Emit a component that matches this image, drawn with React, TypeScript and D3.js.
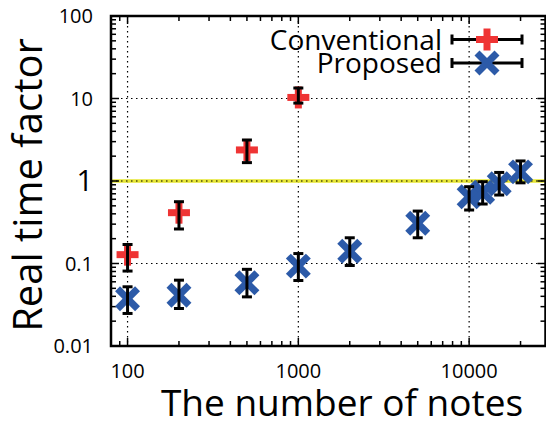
import * as d3 from "d3";

const convX = [100, 200, 500, 1000];
const convY = [0.128, 0.413, 2.38, 10.3];
const convLo = [0.081, 0.262, 1.67, 8.8];
const convHi = [0.17, 0.561, 3.14, 13.4];

const propX = [100, 200, 500, 1000, 2000, 5000, 10000, 12000, 15000, 20000];
const propY = [0.0373, 0.0413, 0.0583, 0.093, 0.141, 0.307, 0.645, 0.73, 0.927, 1.29];
const propLo = [0.0248, 0.0285, 0.0394, 0.0622, 0.0946, 0.205, 0.445, 0.526, 0.676, 0.95];
const propHi = [0.0522, 0.0628, 0.085, 0.132, 0.205, 0.432, 0.853, 0.98, 1.27, 1.75];

const xMajor = [100, 1000, 10000];
const yMajor = [0.01, 0.1, 1, 10, 100];
const yLabels = ["0.01", "0.1", "1", "10", "100"];
const legendNames = ["Conventional", "Proposed"];

const W = 546;
const H = 423;
const m = { left: 111, right: 545.5, top: 16, bottom: 346 };
const RED = "#ef3434";
const BLUE = "#2c5aa8";
const FONT = "'Open Sans', 'DejaVu Sans', sans-serif";

const x = d3.scaleLog().domain([80, 28000]).range([m.left, m.right]);
const y = d3.scaleLog().domain([0.01, 100]).range([m.bottom, m.top]);

const isMajor = (v: number) => Math.abs(Math.log10(v) - Math.round(Math.log10(v))) < 1e-9;

function Plus({ cx, cy }: { cx: number; cy: number }) {
  const s = 11;
  return (
    <g stroke={RED} strokeWidth={7}>
      <line x1={cx - s} x2={cx + s} y1={cy} y2={cy} />
      <line x1={cx} x2={cx} y1={cy - s} y2={cy + s} />
    </g>
  );
}

function Cross({ cx, cy }: { cx: number; cy: number }) {
  const s = 10;
  return (
    <g stroke={BLUE} strokeWidth={7}>
      <line x1={cx - s} x2={cx + s} y1={cy - s} y2={cy + s} />
      <line x1={cx - s} x2={cx + s} y1={cy + s} y2={cy - s} />
    </g>
  );
}

function ErrBar({ cx, y1, y2 }: { cx: number; y1: number; y2: number }) {
  const c = 5;
  return (
    <g stroke="#000" strokeWidth={3}>
      <line x1={cx} x2={cx} y1={y1} y2={y2} />
      <line x1={cx - c} x2={cx + c} y1={y1} y2={y1} />
      <line x1={cx - c} x2={cx + c} y1={y2} y2={y2} />
    </g>
  );
}

export default function App() {
  const xTicks = x.ticks();
  const yTicks = y.ticks();
  return (
    <svg width={W} height={H} style={{ display: "block", position: "absolute", left: 0, top: 0 }} fontFamily={FONT}>
      <rect width={W} height={H} fill="#fff" />
      {/* grid */}
      <g stroke="#000" strokeWidth={1.2} strokeDasharray="1.5,3.5">
        {xMajor.map((v) => (
          <line key={"gx" + v} x1={x(v)} x2={x(v)} y1={m.top} y2={m.bottom} />
        ))}
      </g>
      <line x1={m.left} x2={m.right} y1={y(1)} y2={y(1)} stroke="#e6e632" strokeWidth={3.5} />
      <g stroke="#000" strokeWidth={1.2} strokeDasharray="1.5,3.5">
        {[0.1, 1, 10].map((v) => (
          <line key={"gy" + v} x1={m.left} x2={m.right} y1={y(v)} y2={y(v)} />
        ))}
      </g>
      {/* ticks */}
      <g stroke="#000" strokeWidth={1.5}>
        {xTicks.map((v, i) => {
          const l = isMajor(v) ? 8 : 5;
          return (
            <g key={"xt" + i}>
              <line x1={x(v)} x2={x(v)} y1={m.bottom} y2={m.bottom - l} />
              <line x1={x(v)} x2={x(v)} y1={m.top} y2={m.top + l} />
            </g>
          );
        })}
        {yTicks.map((v, i) => {
          const l = isMajor(v) ? 8 : 5;
          return (
            <g key={"yt" + i}>
              <line x1={m.left} x2={m.left + l} y1={y(v)} y2={y(v)} />
              <line x1={m.right} x2={m.right - l} y1={y(v)} y2={y(v)} />
            </g>
          );
        })}
      </g>
      {/* border */}
      <rect x={m.left} y={m.top} width={m.right - m.left} height={m.bottom - m.top} fill="none" stroke="#000" strokeWidth={2.5} />
      {/* tick labels */}
      {xMajor.map((v) => (
        <text key={"xl" + v} x={x(v)} y={378} textAnchor="middle" fontSize={20}>
          {String(v)}
        </text>
      ))}
      {yMajor.map((v, i) => (
        <text key={"yl" + v} x={93} y={y(v)} dy="0.35em" textAnchor="end" fontSize={v === 1 ? 29 : 20}>
          {yLabels[i]}
        </text>
      ))}
      {/* axis titles */}
      <text x={342} y={416} textAnchor="middle" fontSize={37}>
        The number of notes
      </text>
      <text transform={`translate(42,185) rotate(-90)`} textAnchor="middle" fontSize={40}>
        Real time factor
      </text>
      {/* data */}
      {convX.map((v, i) => (
        <Plus key={"cp" + i} cx={x(v)} cy={y(convY[i])} />
      ))}
      {propX.map((v, i) => (
        <Cross key={"pp" + i} cx={x(v)} cy={y(propY[i])} />
      ))}
      {convX.map((v, i) => (
        <ErrBar key={"ce" + i} cx={x(v)} y1={y(convHi[i])} y2={y(convLo[i])} />
      ))}
      {propX.map((v, i) => (
        <ErrBar key={"pe" + i} cx={x(v)} y1={y(propHi[i])} y2={y(propLo[i])} />
      ))}
      {/* legend */}
      {legendNames.map((name, i) => {
        const cy = 39.5 + i * 23.5;
        return (
          <g key={name}>
            <text x={442} y={cy + 10} textAnchor="end" fontSize={28}>
              {name}
            </text>
            <g stroke="#000" strokeWidth={3}>
              <line x1={452} x2={522} y1={cy} y2={cy} />
              <line x1={452} x2={452} y1={cy - 5} y2={cy + 5} />
              <line x1={522} x2={522} y1={cy - 5} y2={cy + 5} />
            </g>
            {i === 0 ? <Plus cx={487} cy={cy} /> : <Cross cx={487} cy={cy} />}
          </g>
        );
      })}
    </svg>
  );
}
